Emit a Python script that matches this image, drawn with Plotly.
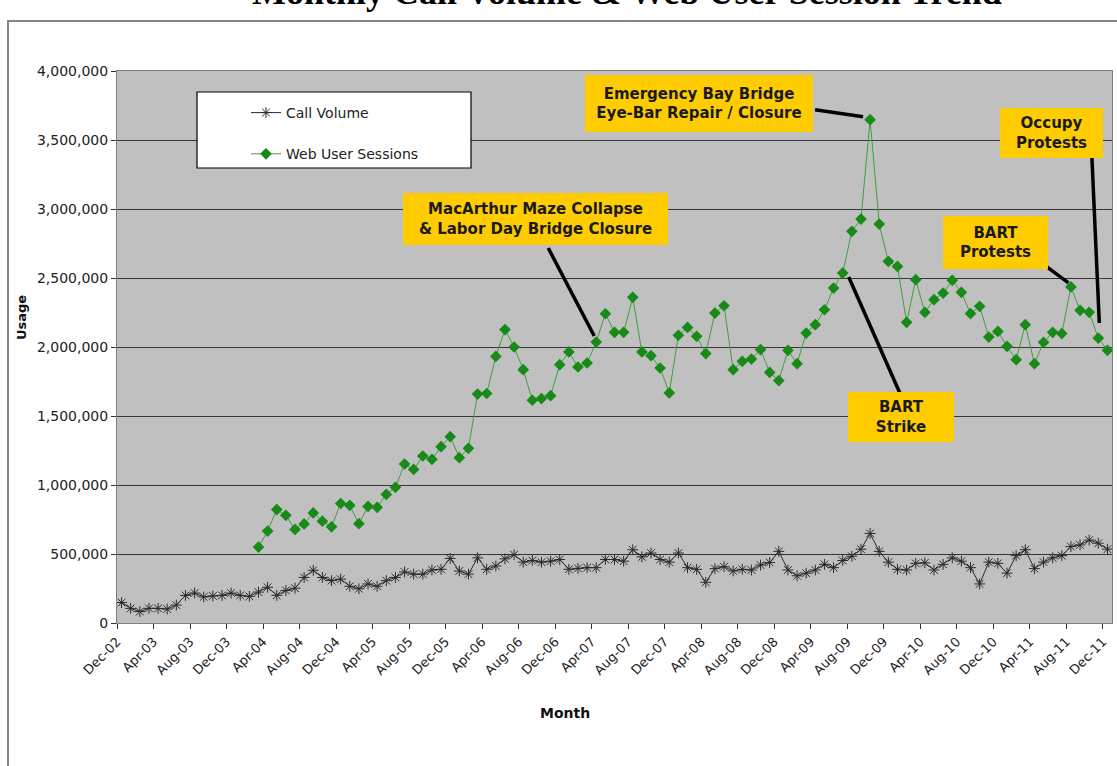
import plotly.graph_objects as go
import pandas as pd

# ---------------- data ----------------
months = pd.date_range("2002-12-01", periods=109, freq="MS").strftime("%b-%y").tolist()
tick_labels = months[::4]

call_volume = [
    148000, 106000, 83000, 106000, 106000, 101000, 130000, 200000, 217000, 189000,
    196000, 200000, 217000, 200000, 193000, 224000, 259000, 200000, 236000, 252000,
    330000, 382000, 330000, 307000, 318000, 266000, 248000, 283000, 266000, 307000,
    330000, 370000, 354000, 354000, 384000, 389000, 468000, 377000, 354000, 472000,
    389000, 413000, 465000, 495000, 441000, 453000, 441000, 448000, 460000, 389000,
    396000, 401000, 401000, 460000, 460000, 448000, 531000, 479000, 507000, 460000,
    441000, 507000, 401000, 389000, 295000, 394000, 408000, 377000, 389000, 384000,
    420000, 438000, 519000, 384000, 342000, 361000, 384000, 425000, 401000, 453000,
    484000, 535000, 649000, 519000, 441000, 389000, 384000, 432000, 436000, 384000,
    425000, 472000, 448000, 401000, 283000, 441000, 432000, 361000, 488000, 531000,
    394000, 441000, 472000, 488000, 554000, 566000, 601000, 578000, 535000,
]

web_start = "Mar-04"
web_sessions = [
    550000, 666000, 822000, 780000, 678000, 718000, 798000, 738000, 697000, 866000,
    852000, 720000, 845000, 838000, 932000, 983000, 1152000, 1113000, 1210000, 1186000,
    1278000, 1350000, 1198000, 1266000, 1659000, 1663000, 1932000, 2126000, 2000000, 1836000,
    1614000, 1626000, 1647000, 1872000, 1964000, 1855000, 1884000, 2036000, 2241000, 2106000,
    2106000, 2360000, 1964000, 1937000, 1848000, 1667000, 2085000, 2142000, 2077000, 1952000,
    2246000, 2299000, 1836000, 1896000, 1913000, 1981000, 1816000, 1757000, 1976000, 1879000,
    2101000, 2162000, 2270000, 2427000, 2536000, 2838000, 2927000, 3647000, 2891000, 2621000,
    2584000, 2179000, 2488000, 2251000, 2343000, 2391000, 2483000, 2396000, 2242000, 2295000,
    2072000, 2113000, 2005000, 1908000, 2162000, 1879000, 2034000, 2106000, 2097000, 2435000,
    2266000, 2251000, 2065000, 1976000,
]

event_months = ["Apr-07", "Oct-09", "Jul-09", "Aug-11", "Nov-11"]
event_texts = [
    "MacArthur Maze Collapse<br>& Labor Day Bridge Closure",
    "Emergency Bay Bridge<br>Eye-Bar Repair / Closure",
    "BART<br>Strike",
    "BART<br>Protests",
    "Occupy<br>Protests",
]

# ---------------- layout helpers ----------------
PL, PR, PT, PB = 117, 1112, 71, 623


def px_x(p):
    return (p - PL) / (PR - PL)


def px_y(p):
    return (PB - p) / (PB - PT)


SANS = "DejaVu Sans"
x_all = list(range(len(months)))
s0 = months.index(web_start)
x_web = x_all[s0:s0 + len(web_sessions)]

fig = go.Figure()
fig.add_trace(go.Scatter(
    x=x_all, y=call_volume, mode="lines+markers", name="Call Volume",
    legendgroup="g1",
    line=dict(color="#2a2a2a", width=1),
    marker=dict(symbol="asterisk-open", size=9, line=dict(color="#1a1a1a", width=1)),
))
fig.add_trace(go.Scatter(
    x=x_web, y=web_sessions, mode="lines+markers", name="Web User Sessions",
    legendgroup="g2",
    line=dict(color="#3f9f3f", width=1),
    marker=dict(symbol="diamond", size=9, color="#178a17", line=dict(width=0)),
))

# event boxes and leader lines
box_geo = [  # (ax, ay, width, height)
    (-61, -123, 265, 52),
    (-171, -16, 228, 57),
    (58, 144, 106, 50),
    (-75, -44, 105, 53),
    (-47, -205, 103, 50),
]
leaders = [  # pixel offsets from the data point (x0, y0, x1, y1), y up
    (-48, 94, -2, 6),
    (-55, 10, -7, 3),
    (6, -4, 58, -122),
    (-24, 20, -2.5, 4),
    (-6.5, 183, 1, 15),
]

annotations = []
shapes = []
for m, txt, (ax, ay, w, h), (lx0, ly0, lx1, ly1) in zip(event_months, event_texts, box_geo, leaders):
    i = months.index(m)
    yv = web_sessions[i - s0]
    shapes.append(dict(
        type="line", xref="x", yref="y", xsizemode="pixel", ysizemode="pixel",
        xanchor=i, yanchor=yv, x0=lx0, y0=ly0, x1=lx1, y1=ly1,
        line=dict(color="black", width=3.5), layer="above",
    ))
    annotations.append(dict(
        x=i, y=yv, xref="x", yref="y", text=txt, showarrow=True,
        arrowcolor="rgba(0,0,0,0)", arrowwidth=0.1, ax=ax, ay=ay,
        axref="pixel", ayref="pixel", width=w, height=h,
        bgcolor="#FFCC00", borderpad=0, borderwidth=0,
        font=dict(family=SANS, size=15, color="#1a1a1a", weight="bold"),
        align="center", valign="middle",
    ))

# legend box
shapes.append(dict(
    type="rect", xref="paper", yref="paper",
    x0=px_x(197), x1=px_x(471), y0=px_y(168), y1=px_y(92),
    fillcolor="white", line=dict(color="black", width=1.2), layer="above",
))
# chart frame
shapes.append(dict(
    type="rect", xref="paper", yref="paper",
    x0=px_x(8), x1=px_x(1400), y0=px_y(1000), y1=px_y(21),
    fillcolor="rgba(0,0,0,0)", line=dict(color="#858585", width=2), layer="below",
))

# title (cropped at top as in the reference)
annotations.append(dict(
    text="Monthly Call Volume & Web User Session Trend", xref="paper", yref="paper",
    x=px_x(627), y=px_y(14), xanchor="center", yanchor="bottom", showarrow=False,
    font=dict(family="Liberation Serif", size=36, color="black", weight="bold"),
))
# axis titles
annotations.append(dict(
    text="Usage", xref="paper", yref="paper", x=px_x(21), y=px_y(318),
    xanchor="center", yanchor="middle", showarrow=False, textangle=-90,
    font=dict(family=SANS, size=13, color="#111", weight="bold"),
))
annotations.append(dict(
    text="Month", xref="paper", yref="paper", x=px_x(565), y=px_y(713),
    xanchor="center", yanchor="middle", showarrow=False,
    font=dict(family=SANS, size=14, color="#111", weight="bold"),
))

fig.update_layout(
    width=1117, height=766, autosize=False,
    margin=dict(l=PL, r=1117 - PR, t=PT, b=766 - PB),
    paper_bgcolor="white", plot_bgcolor="#C0C0C0",
    showlegend=True,
    legend=dict(
        x=px_x(246), y=px_y(97), xanchor="left", yanchor="top",
        bgcolor="rgba(0,0,0,0)", borderwidth=0, tracegroupgap=20,
        font=dict(family=SANS, size=14, color="#222"),
    ),
    annotations=annotations,
    shapes=shapes,
    xaxis=dict(
        range=[-0.5, len(months) - 0.5],
        tickmode="array", tickvals=[k - 0.5 for k in x_all[::4]], ticktext=tick_labels,
        tickangle=-45, ticks="outside", ticklen=5, tickcolor="#333",
        showgrid=False, zeroline=False, showline=True, linecolor="#808080", linewidth=1,
        mirror=True, tickfont=dict(family=SANS, size=13, color="#222"),
    ),
    yaxis=dict(
        range=[0, 4000000], dtick=500000, tickformat=",",
        ticks="outside", ticklen=5, tickcolor="#333",
        showgrid=True, gridcolor="#363636", gridwidth=1, zeroline=False,
        showline=True, linecolor="#808080", linewidth=1, mirror=True,
        tickfont=dict(family=SANS, size=14, color="#222"),
    ),
)

fig.write_html("out.html")
